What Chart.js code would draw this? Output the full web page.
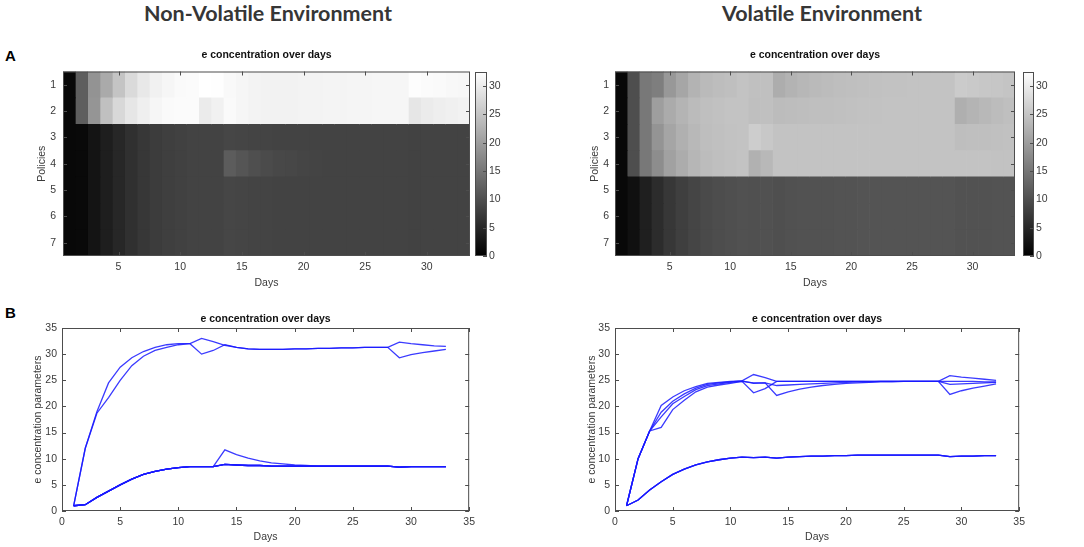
<!DOCTYPE html>
<html>
<head>
<meta charset="utf-8">
<script src="https://cdn.jsdelivr.net/npm/chart.js@4.4.1/dist/chart.umd.min.js"></script>
<style>
  body { margin: 0; background: #fff; width: 1084px; height: 547px; position: relative; overflow: hidden; }
  .box { position: absolute; }
  .hdr { position: absolute; top: 3px; font: bold 21.5px Lato, "Open Sans", sans-serif; line-height: 21.5px; color: #363636; white-space: nowrap; transform: translateX(-50%); }
  .tag { position: absolute; left: 5px; font: bold 15px "Liberation Sans", Arial, sans-serif; line-height: 15px; color: #000; }
</style>
</head>
<body>
<div class="hdr" style="left:268px">Non-Volatile Environment</div>
<div class="hdr" style="left:822px">Volatile Environment</div>
<div class="tag" style="top:48px">A</div>
<div class="tag" style="top:305px">B</div>

<div class="box" style="left:0;top:44px;width:480px;height:250px"><canvas id="heatNV"></canvas></div>
<div class="box" style="left:470px;top:44px;width:40px;height:250px"><canvas id="barNV"></canvas></div>
<div class="box" style="left:540px;top:44px;width:485px;height:250px"><canvas id="heatV"></canvas></div>
<div class="box" style="left:1018px;top:44px;width:40px;height:250px"><canvas id="barV"></canvas></div>
<div class="box" style="left:0;top:300px;width:480px;height:247px"><canvas id="lineNV"></canvas></div>
<div class="box" style="left:540px;top:300px;width:490px;height:247px"><canvas id="lineV"></canvas></div>

<script>
// days and policies
var days = [1, 2, 3, 4, 5, 6, 7, 8, 9, 10, 11, 12, 13, 14, 15, 16, 17, 18, 19, 20,
            21, 22, 23, 24, 25, 26, 27, 28, 29, 30, 31, 32, 33];
var policies = ['1', '2', '3', '4', '5', '6', '7'];

var heatTicks = [5, 10, 15, 20, 25, 30];
var barTicks = [0, 5, 10, 15, 20, 25, 30];
var colorMax = 32.5;

// non-volatile environment, e concentration per policy
var nv1 = [1, 12, 18.7, 21.7, 25.0, 27.8, 29.6, 30.7, 31.3, 31.8, 32.0, 33.0, 32.4, 31.7, 31.3, 31.0, 30.9,
           30.9, 30.9, 31.0, 31.0, 31.1, 31.1, 31.2, 31.2, 31.3, 31.3, 31.3, 32.3, 32.0, 31.8, 31.6, 31.5];
var nv2 = [1, 12, 19.0, 24.5, 27.5, 29.3, 30.5, 31.3, 31.8, 32.0, 32.0, 30.0, 30.7, 31.8, 31.3, 31.0, 30.9,
           30.9, 30.9, 31.0, 31.0, 31.1, 31.1, 31.2, 31.2, 31.3, 31.3, 31.3, 29.3, 29.9, 30.3, 30.6, 30.9];
var nv3 = [1, 1.2, 2.6, 3.8, 5.0, 6.1, 7.0, 7.6, 8.0, 8.3, 8.5, 8.5, 8.5, 8.9, 8.8, 8.7, 8.7,
           8.6, 8.6, 8.6, 8.6, 8.6, 8.6, 8.6, 8.6, 8.6, 8.6, 8.6, 8.4, 8.5, 8.5, 8.5, 8.5];
var nv4 = [1, 1.2, 2.6, 3.8, 5.0, 6.1, 7.0, 7.6, 8.0, 8.3, 8.5, 8.5, 8.5, 11.7, 10.8, 10.1, 9.6,
           9.2, 9.0, 8.8, 8.7, 8.6, 8.6, 8.6, 8.6, 8.6, 8.6, 8.6, 8.4, 8.5, 8.5, 8.5, 8.5];
var nv5 = [1, 1.2, 2.6, 3.8, 5.0, 6.1, 7.0, 7.6, 8.0, 8.3, 8.5, 8.5, 8.5, 8.9, 8.8, 8.7, 8.7,
           8.6, 8.6, 8.6, 8.6, 8.6, 8.6, 8.6, 8.6, 8.6, 8.6, 8.6, 8.4, 8.5, 8.5, 8.5, 8.5];
var nv6 = [1, 1.2, 2.6, 3.8, 5.0, 6.1, 7.0, 7.6, 8.0, 8.3, 8.5, 8.5, 8.5, 8.9, 8.8, 8.7, 8.7,
           8.6, 8.6, 8.6, 8.6, 8.6, 8.6, 8.6, 8.6, 8.6, 8.6, 8.6, 8.4, 8.5, 8.5, 8.5, 8.5];
var nv7 = [1, 1.2, 2.6, 3.8, 5.0, 6.1, 7.0, 7.6, 8.0, 8.3, 8.5, 8.5, 8.5, 8.9, 8.8, 8.7, 8.7,
           8.6, 8.6, 8.6, 8.6, 8.6, 8.6, 8.6, 8.6, 8.6, 8.6, 8.6, 8.4, 8.5, 8.5, 8.5, 8.5];

// volatile environment
var v1 = [1, 10, 15.3, 16.0, 19.4, 21.2, 22.8, 23.7, 24.1, 24.4, 24.8, 24.5, 24.5, 22.1, 22.8, 23.3, 23.7,
          24.0, 24.2, 24.4, 24.5, 24.6, 24.7, 24.7, 24.8, 24.8, 24.8, 24.8, 25.9, 25.6, 25.4, 25.2, 25.0];
var v2 = [1, 10, 15.3, 20.2, 21.8, 23.0, 23.8, 24.4, 24.6, 24.8, 24.9, 24.4, 24.5, 24.0, 24.1, 24.2, 24.3,
          24.4, 24.5, 24.6, 24.7, 24.7, 24.8, 24.8, 24.8, 24.8, 24.8, 24.8, 22.3, 23.0, 23.5, 23.9, 24.3];
var v3 = [1, 10, 15.3, 18.9, 21.0, 22.4, 23.5, 24.2, 24.5, 24.7, 24.9, 26.1, 25.5, 24.8, 24.8, 24.8, 24.8,
          24.8, 24.8, 24.8, 24.8, 24.8, 24.8, 24.8, 24.8, 24.8, 24.8, 24.8, 24.2, 24.3, 24.4, 24.5, 24.6];
var v4 = [1, 10, 15.3, 18.0, 20.5, 21.9, 23.2, 24.0, 24.3, 24.6, 24.8, 22.6, 23.4, 24.8, 24.8, 24.8, 24.8,
          24.8, 24.8, 24.8, 24.8, 24.8, 24.8, 24.8, 24.8, 24.8, 24.8, 24.8, 24.8, 24.8, 24.8, 24.7, 24.7];
var v5 = [1, 2.1, 4.0, 5.6, 7.0, 8.0, 8.8, 9.4, 9.8, 10.1, 10.3, 10.2, 10.3, 10.1, 10.3, 10.4, 10.5,
          10.5, 10.6, 10.6, 10.7, 10.7, 10.7, 10.7, 10.7, 10.7, 10.7, 10.7, 10.4, 10.5, 10.5, 10.6, 10.6];
var v6 = [1, 2.1, 4.0, 5.6, 7.0, 8.0, 8.8, 9.4, 9.8, 10.1, 10.3, 10.2, 10.3, 10.1, 10.3, 10.4, 10.5,
          10.5, 10.6, 10.6, 10.7, 10.7, 10.7, 10.7, 10.7, 10.7, 10.7, 10.7, 10.4, 10.5, 10.5, 10.6, 10.6];
var v7 = [1, 2.1, 4.0, 5.6, 7.0, 8.0, 8.8, 9.4, 9.8, 10.1, 10.3, 10.2, 10.3, 10.1, 10.3, 10.4, 10.5,
          10.5, 10.6, 10.6, 10.7, 10.7, 10.7, 10.7, 10.7, 10.7, 10.7, 10.7, 10.4, 10.5, 10.5, 10.6, 10.6];

var nonVolatile = [nv1, nv2, nv3, nv4, nv5, nv6, nv7];
var volatile = [v1, v2, v3, v4, v5, v6, v7];

Chart.defaults.font.family = '"Liberation Sans", Arial, Helvetica, sans-serif';
Chart.defaults.font.size = 10.5;
Chart.defaults.color = '#3a3a3a';
Chart.defaults.animation = false;
Chart.defaults.devicePixelRatio = 1;
Chart.defaults.plugins.legend.display = false;
Chart.defaults.plugins.tooltip.enabled = false;

// matlab style box with inward tick marks
var frame = {
  id: 'frame',
  afterDatasetsDraw: function (chart, args, opts) {
    var ctx = chart.ctx, a = chart.chartArea, len = 4;
    var rightOnly = opts && opts.rightOnly;
    ctx.save();
    ctx.strokeStyle = '#4d4d4d';
    ctx.lineWidth = 1;
    ctx.strokeRect(a.left + 0.5, a.top + 0.5, a.width - 1, a.height - 1);
    ctx.beginPath();
    ['x', 'y'].forEach(function (id) {
      var s = chart.scales[id];
      if (!s || !s.options.display) return;
      s.ticks.forEach(function (t, i) {
        var p = Math.round(s.getPixelForTick(i)) + 0.5;
        if (s.isHorizontal()) {
          ctx.moveTo(p, a.bottom); ctx.lineTo(p, a.bottom - len);
          ctx.moveTo(p, a.top); ctx.lineTo(p, a.top + len);
        } else {
          if (!rightOnly) { ctx.moveTo(a.left, p); ctx.lineTo(a.left + len, p); }
          ctx.moveTo(a.right, p); ctx.lineTo(a.right - len, p);
        }
      });
    });
    ctx.stroke();
    ctx.restore();
  }
};

function gray(v) {
  var g = Math.round(Math.max(0, Math.min(1, v / colorMax)) * 255);
  return 'rgb(' + g + ',' + g + ',' + g + ')';
}

function titleOpts(bottom) {
  return {
    display: true, text: 'e concentration over days', fullSize: false, color: '#111',
    font: { size: 10.5, weight: 'bold', lineHeight: 1 }, padding: { top: 0, bottom: bottom }
  };
}

function axisTitle(text) {
  return { display: true, text: text, font: { size: 10.5, lineHeight: 1 }, padding: 0, color: '#3a3a3a' };
}

function heatmap(id, rows, yWidth, yPad, padLeft, padRight) {
  var datasets = days.map(function (d, j) {
    return {
      data: policies.map(function () { return [d - 0.5, d + 0.5]; }),
      backgroundColor: rows.map(function (r) { return gray(r[j]); }),
      borderWidth: 0,
      grouped: false,
      barPercentage: 1,
      categoryPercentage: 1
    };
  });
  return new Chart(document.getElementById(id), {
    type: 'bar',
    data: { labels: policies, datasets: datasets },
    options: {
      indexAxis: 'y',
      responsive: true,
      maintainAspectRatio: false,
      layout: { padding: { top: 6, left: padLeft, right: padRight, bottom: 6 } },
      plugins: { title: titleOpts(11) },
      scales: {
        x: {
          type: 'linear', min: 0.5, max: 33.5,
          afterBuildTicks: function (s) { s.ticks = heatTicks.map(function (v) { return { value: v }; }); },
          afterFit: function (s) { s.height = 32; },
          ticks: { padding: 5 },
          grid: { display: false, drawTicks: false },
          border: { display: false },
          title: axisTitle('Days')
        },
        y: {
          afterFit: function (s) { s.width = yWidth; },
          ticks: { padding: yPad },
          grid: { display: false, drawTicks: false },
          border: { display: false },
          title: axisTitle('Policies')
        }
      }
    },
    plugins: [frame]
  });
}

function colorbar(id, yWidth) {
  return new Chart(document.getElementById(id), {
    type: 'bar',
    data: {
      labels: [''],
      datasets: [{
        data: [[0, colorMax]],
        backgroundColor: function (c) {
          var a = c.chart.chartArea;
          if (!a) return '#808080';
          var g = c.chart.ctx.createLinearGradient(0, a.bottom, 0, a.top);
          g.addColorStop(0, '#000');
          g.addColorStop(1, '#fff');
          return g;
        },
        borderWidth: 0,
        barPercentage: 1,
        categoryPercentage: 1
      }]
    },
    options: {
      responsive: true,
      maintainAspectRatio: false,
      layout: { padding: { top: 28, left: 5, right: 0, bottom: 38 } },
      plugins: { frame: { rightOnly: true } },
      scales: {
        x: { display: false },
        y: {
          position: 'right', min: 0, max: colorMax,
          afterBuildTicks: function (s) { s.ticks = barTicks.map(function (v) { return { value: v }; }); },
          afterFit: function (s) { s.width = yWidth; },
          ticks: { padding: 2 },
          grid: { display: false, drawTicks: false },
          border: { display: false }
        }
      }
    },
    plugins: [frame]
  });
}

function lines(id, rows, yWidth, padLeft, padRight) {
  var datasets = rows.map(function (r) {
    return {
      data: days.map(function (d, j) { return { x: d, y: r[j] }; }),
      borderColor: 'rgba(25,25,255,0.85)',
      borderWidth: 1.3,
      pointRadius: 0,
      tension: 0,
      fill: false
    };
  });
  return new Chart(document.getElementById(id), {
    type: 'line',
    data: { datasets: datasets },
    options: {
      responsive: true,
      maintainAspectRatio: false,
      layout: { padding: { top: 14, left: padLeft, right: padRight, bottom: 5 } },
      plugins: { title: titleOpts(3.5) },
      scales: {
        x: {
          type: 'linear', min: 0, max: 35,
          ticks: { stepSize: 5, padding: 5 },
          afterFit: function (s) { s.height = 31; },
          grid: { display: false, drawTicks: false },
          border: { display: false },
          title: axisTitle('Days')
        },
        y: {
          min: 0, max: 35,
          ticks: { stepSize: 5, padding: 5 },
          afterFit: function (s) { s.width = yWidth; },
          grid: { display: false, drawTicks: false },
          border: { display: false },
          title: axisTitle('e concentration parameters')
        }
      }
    },
    plugins: [frame]
  });
}

heatmap('heatNV', nonVolatile, 26, 7, 37, 10);
colorbar('barNV', 23);
heatmap('heatV', volatile, 25, 6, 50, 10);
colorbar('barV', 24);
lines('lineNV', nonVolatile, 29, 33, 10);
lines('lineV', volatile, 28, 47, 10);
</script>
</body>
</html>
